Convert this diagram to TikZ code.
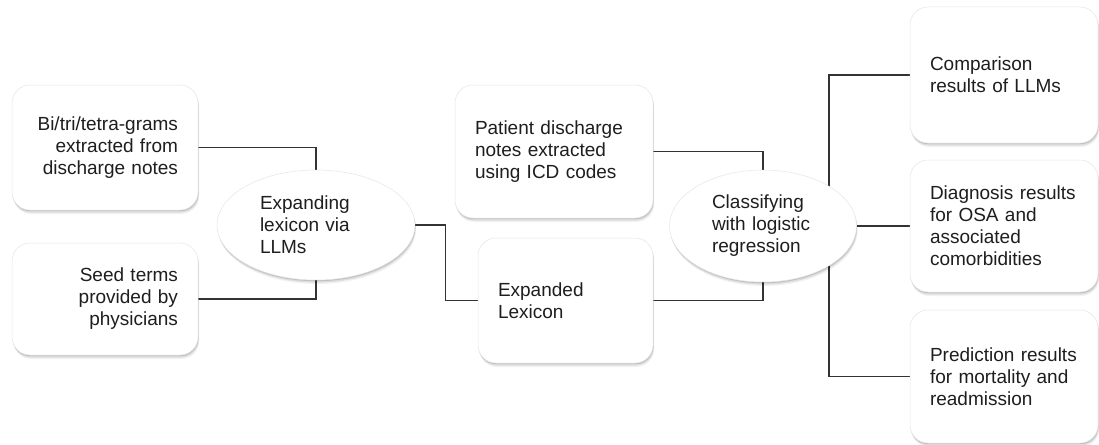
\documentclass[tikz,border=0pt]{standalone}
\usepackage{fontspec}
\setmainfont{Liberation Sans}
\usetikzlibrary{shapes.geometric,shadows}
\pgfdeclarelayer{bgfill}
\pgfdeclarelayer{background}
\pgfsetlayers{bgfill,background,main}
\definecolor{linec}{HTML}{333333}
\definecolor{txtc}{HTML}{1E1E1E}
\definecolor{edgec}{HTML}{E6E6E6}
\tikzset{
  softshadow/.style={
    drop shadow={shadow xshift=0.4pt,shadow yshift=-1.2pt,opacity=0.12,fill=black},
    drop shadow={shadow xshift=0.8pt,shadow yshift=-2.6pt,opacity=0.09,fill=black},
    drop shadow={shadow xshift=1.2pt,shadow yshift=-4pt,opacity=0.05,fill=black}},
  card/.style={rectangle, rounded corners=18pt, fill=white, draw=edgec, line width=0.5pt,
    softshadow, inner xsep=20pt, inner ysep=0pt, text=txtc,
    font=\fontsize{19}{22}\selectfont},
  oval/.style={ellipse, fill=white, draw=edgec, line width=0.5pt, softshadow,
    inner sep=0pt, text=txtc, font=\fontsize{19}{22}\selectfont},
  conn/.style={draw=linec, line width=1.5pt}
}
\begin{document}
\begin{tikzpicture}[x=1pt,y=-1pt]
\begin{pgfonlayer}{bgfill}
\fill[white] (0,0) rectangle (1099,444);
\end{pgfonlayer}
\useasboundingbox (0,0) rectangle (1099,444);

\node[card, minimum width=186pt, minimum height=125pt, text width=146pt, align=right] (b1) at (105,147.5)
  {Bi/tri/tetra-grams\\extracted from\\discharge notes};
\node[card, minimum width=186pt, minimum height=112pt, text width=146pt, align=right] (b2) at (105,299)
  {Seed terms\\provided by\\physicians};
\node[oval, minimum width=198pt, minimum height=110pt, text width=112pt, align=left] (e1) at (316,225)
  {Expanding\\lexicon via\\LLMs};
\node[card, minimum width=198pt, minimum height=133pt, text width=158pt, align=left] (b3) at (554,151.5)
  {Patient discharge\\notes extracted\\using ICD codes};
\node[card, minimum width=175pt, minimum height=125pt, text width=135pt, align=left] (b4) at (565.5,300.5)
  {Expanded\\Lexicon};
\node[oval, minimum width=187pt, minimum height=112pt, text width=102pt, align=left] (e2) at (763,226)
  {Classifying\\with logistic\\regression};
\node[card, minimum width=188pt, minimum height=136pt, text width=148pt, align=left] (b5) at (1004,75)
  {Comparison\\results of LLMs};
\node[card, minimum width=188pt, minimum height=132pt, text width=148pt, align=left] (b6) at (1004,226)
  {Diagnosis results\\for OSA and\\associated\\comorbidities};
\node[card, minimum width=188pt, minimum height=133pt, text width=148pt, align=left] (b7) at (1004,376.5)
  {Prediction results\\for mortality and\\readmission};

\begin{pgfonlayer}{background}
\draw[conn] (b1.east) -| (e1.north);
\draw[conn] (b2.east) -| (e1.south);
\draw[conn] (e1.east) -- ++(30,0) |- (b4.west);
\draw[conn] (b3.east) -| (e2.north);
\draw[conn] (b4.east) -| (e2.south);
\draw[conn] (e2.east) -- (b6.west);
\draw[conn] (b5.west) -- ++(-81,0) |- (b7.west);
\end{pgfonlayer}
\end{tikzpicture}
\end{document}
